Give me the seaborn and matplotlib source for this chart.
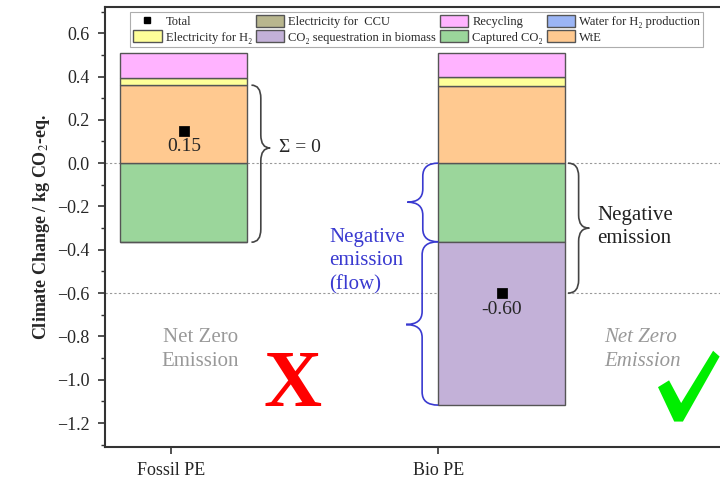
import numpy as np
import pandas as pd
import seaborn as sns
import matplotlib.pyplot as plt
from matplotlib.path import Path
from matplotlib.patches import PathPatch, Patch, Polygon
from matplotlib.lines import Line2D
from matplotlib.ticker import MultipleLocator

# data (kg CO2-eq.)
products = ['Fossil PE', 'Bio PE']
captured_co2 = [-0.365, -0.363]
co2_biomass = [0.0, -0.754]
wte = [0.36, 0.357]
elec_h2 = [0.035, 0.04]
elec_ccu = [0.0, 0.0]
water_h2 = [0.0, 0.0]
recycling = [0.115, 0.113]
totals = [0.15, -0.60]
total_labels = ['0.15', '-0.60']

colors = {
    'Electricity for  CCU': '#b8b68e',
    'Recycling': '#ffb3ff',
    'Water for H\u2082 production': '#9bb5f5',
    'Electricity for H\u2082': '#ffff99',
    'CO\u2082 sequestration in biomass': '#c3b1d8',
    'Captured CO\u2082': '#9bd69b',
    'WtE': '#ffc990',
}

sns.set_theme(style='ticks')
plt.rcParams['font.family'] = ['Liberation Serif', 'DejaVu Sans']
plt.rcParams['mathtext.fontset'] = 'stix'

fig = plt.figure(figsize=(7.2, 4.79), dpi=100)
ax = fig.add_axes([0.146, 0.067, 0.862, 0.918])

tick_pos = np.array([0, 1])
bar_pos = np.array([0.049, 1.238])
bar_w = 0.475
edge = '#555555'

# negative stack (downwards), then positive stack (upwards)
neg_bottom = np.zeros(2)
for name, vals in [('Captured CO\u2082', captured_co2),
                   ('CO\u2082 sequestration in biomass', co2_biomass)]:
    vals = np.array(vals)
    ax.bar(bar_pos, vals, bar_w, bottom=neg_bottom, color=colors[name],
           edgecolor=edge, linewidth=1.0, zorder=3)
    neg_bottom = neg_bottom + vals

pos_bottom = np.zeros(2)
for name, vals in [('WtE', wte), ('Electricity for H\u2082', elec_h2),
                   ('Electricity for  CCU', elec_ccu),
                   ('Water for H\u2082 production', water_h2),
                   ('Recycling', recycling)]:
    vals = np.array(vals)
    ax.bar(bar_pos, vals, bar_w, bottom=pos_bottom, color=colors[name],
           edgecolor=edge, linewidth=1.0 if vals.any() else 0, zorder=3)
    pos_bottom = pos_bottom + vals

df_tot = pd.DataFrame({'x': bar_pos, 'total': totals})
sns.scatterplot(data=df_tot, x='x', y='total', marker='s', s=45, color='black',
                edgecolor='black', zorder=5, ax=ax, legend=False)
for xp, yv, lab in zip(bar_pos, totals, total_labels):
    ax.text(xp, yv - 0.035, lab, ha='center', va='top', fontsize=14, zorder=6)

ax.axhline(0, color='#999999', ls=(0, (2, 2)), lw=0.8, zorder=1)
ax.axhline(-0.6, color='#999999', ls=(0, (2, 2)), lw=0.8, zorder=1)


def brace(ax, x, w, y_top, y_bot, y_tip, color, r=0.06, lw=1.2):
    xm = x + w / 2
    verts = [(x, y_top), (xm, y_top), (xm, y_top - r),
             (xm, y_tip + r),
             (xm, y_tip), (x + w, y_tip),
             (xm, y_tip), (xm, y_tip - r),
             (xm, y_bot + r),
             (xm, y_bot), (x, y_bot)]
    codes = [Path.MOVETO, Path.CURVE3, Path.CURVE3, Path.LINETO,
             Path.CURVE3, Path.CURVE3, Path.CURVE3, Path.CURVE3,
             Path.LINETO, Path.CURVE3, Path.CURVE3]
    ax.add_patch(PathPatch(Path(verts, codes), fill=False, edgecolor=color,
                           lw=lw, zorder=4))


blue = '#3a3ad0'
brace(ax, 0.302, 0.07, 0.36, -0.365, 0.07, '#444444')
brace(ax, 1.0, -0.115, 0.0, -0.363, -0.18, blue)
brace(ax, 1.0, -0.12, -0.363, -1.117, -0.745, blue)
brace(ax, 1.485, 0.08, 0.0, -0.6, -0.3, '#444444')

ax.text(0.405, 0.07, '\u03a3 = 0', fontsize=14, va='center', ha='left')
ax.text(0.592, -0.452, 'Negative\nemission\n(flow)', color=blue, fontsize=15,
        va='center', ha='left', linespacing=1.3)
ax.text(1.596, -0.296, 'Negative\nemission', color='#222222', fontsize=15,
        va='center', ha='left', linespacing=1.3)
ax.text(0.11, -0.86, 'Net Zero\nEmission', color='#999999', fontsize=15,
        va='center', ha='center', linespacing=1.3)
ax.text(1.62, -0.86, 'Net Zero\nEmission', color='#999999', fontsize=15,
        va='center', ha='left', style='italic', linespacing=1.3)
ax.text(0.456, -1.03, 'X', color='#ff0000', fontsize=58, fontweight='bold',
        ha='center', va='center')

# green check mark drawn as a shape (axes fraction coordinates)
check = Polygon([(0.893, 0.135), (0.908, 0.148), (0.928, 0.095),
                 (0.980, 0.215), (0.988, 0.205), (0.930, 0.060),
                 (0.918, 0.060)], closed=True, facecolor='#00ee00',
                edgecolor='#00ee00', lw=1.5, transform=ax.transAxes,
                clip_on=False, zorder=6)
ax.add_patch(check)

ax.set_xlim(-0.245, 2.075)
ax.set_ylim(-1.31, 0.72)
ax.set_xticks(tick_pos)
ax.set_xticklabels(products, fontsize=13)
ax.yaxis.set_minor_locator(MultipleLocator(0.1))
yt = np.arange(-1.2, 0.61, 0.2)
ax.set_yticks(yt)
ax.set_yticklabels([f'{v:.1f}'.replace('-', '\u2212') if abs(v) > 1e-9 else '0.0'
                    for v in yt], fontsize=13)
ax.tick_params(axis='both', which='major', direction='out', length=5,
               width=1.2, color='#333333', pad=6)
ax.tick_params(axis='y', which='minor', direction='out', length=3,
               width=1.0, color='#333333')
ax.set_xlabel('')
ax.set_ylabel('Climate Change / kg CO$_2$-eq.', fontsize=13, fontweight='bold')
for side in ['left', 'bottom', 'top', 'right']:
    ax.spines[side].set_color('#333333')
    ax.spines[side].set_linewidth(1.5)

handles = [
    Line2D([], [], marker='s', color='black', ls='', markersize=5),
    Patch(facecolor=colors['Electricity for H\u2082'], edgecolor=edge),
    Patch(facecolor=colors['Electricity for  CCU'], edgecolor=edge),
    Patch(facecolor=colors['CO\u2082 sequestration in biomass'], edgecolor=edge),
    Patch(facecolor=colors['Recycling'], edgecolor=edge),
    Patch(facecolor=colors['Captured CO\u2082'], edgecolor=edge),
    Patch(facecolor=colors['Water for H\u2082 production'], edgecolor=edge),
    Patch(facecolor=colors['WtE'], edgecolor=edge),
]
labels = ['Total', 'Electricity for H\u2082', 'Electricity for  CCU',
          'CO\u2082 sequestration in biomass', 'Recycling', 'Captured CO\u2082',
          'Water for H\u2082 production', 'WtE']
leg = ax.legend(handles, labels, ncol=4, loc='upper left',
                bbox_to_anchor=(0.04, 0.99), fontsize=9.0, frameon=True,
                fancybox=False, edgecolor='#999999', handlelength=2.3,
                handleheight=1.1, handletextpad=0.3, columnspacing=0.3,
                labelspacing=0.2, borderpad=0.25, borderaxespad=0)
leg.get_frame().set_linewidth(0.8)

fig.savefig('out.png', dpi=100)
